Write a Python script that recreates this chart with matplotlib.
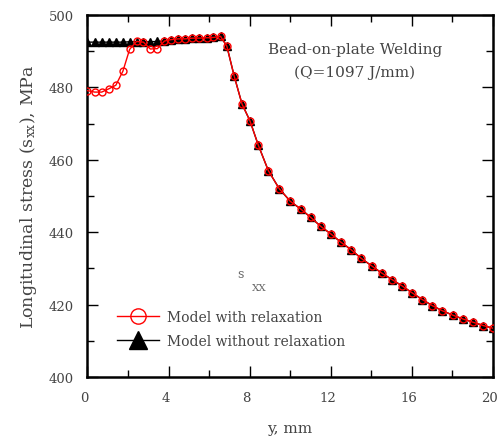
import matplotlib
matplotlib.use("Agg")
import matplotlib.pyplot as plt
import matplotlib.transforms as mtransforms
from matplotlib.ticker import MultipleLocator

plt.rcParams["font.family"] = ["DejaVu Serif"]
plt.rcParams["mathtext.fontset"] = "dejavuserif"

# Position along the plate (mm)
y_mm = [0.0, 0.35, 0.7, 1.05, 1.4, 1.75, 2.08, 2.42, 2.76, 3.1, 3.45, 3.8,
        4.13, 4.48, 4.83, 5.18, 5.53, 5.88, 6.22, 6.57, 6.88, 7.24, 7.63,
        8.02, 8.43, 8.93, 9.47, 10.02, 10.53, 11.02, 11.52, 12.02, 12.52,
        13.01, 13.51, 14.03, 14.53, 15.04, 15.55, 16.04, 16.53, 17.03,
        17.52, 18.03, 18.55, 19.05, 19.55, 20.0]

# Longitudinal stress, model with relaxation (MPa)
sxx_relax = [479.1, 478.7, 478.7, 479.6, 480.6, 484.5, 490.5, 492.7, 492.5,
             490.6, 490.7, 492.8, 493.2, 493.4, 493.4, 493.6, 493.6, 493.7,
             493.8, 494.1, 491.4, 483.2, 475.4, 470.8, 464.1, 457.0, 452.0,
             448.5, 446.4, 444.1, 441.6, 439.5, 437.2, 435.2, 432.8, 430.7,
             428.7, 426.9, 425.1, 423.2, 421.4, 419.7, 418.3, 417.1, 416.0,
             415.1, 414.2, 413.5]

# Longitudinal stress, model without relaxation (MPa)
sxx_norelax = [492.5, 492.5, 492.5, 492.5, 492.5, 492.5, 492.6, 492.6, 492.6,
               492.6, 492.7, 492.8, 493.2, 493.4, 493.4, 493.6, 493.6, 493.7,
               493.8, 494.1, 491.4, 483.2, 475.4, 470.8, 464.1, 457.0, 452.0,
               448.5, 446.4, 444.1, 441.6, 439.5, 437.2, 435.2, 432.8, 430.7,
               428.7, 426.9, 425.1, 423.2, 421.4, 419.7, 418.3, 417.1, 416.0,
               415.1, 414.2, 413.5]

x_ticks = [0, 4, 8, 12, 16, 20]
y_ticks = [400, 420, 440, 460, 480, 500]

txt_color = "#444444"

fig = plt.figure(figsize=(4.98, 4.39), dpi=100)
ax = fig.add_axes([0.1757, 0.139, 0.8133, 0.8246])

ax.plot(y_mm, sxx_norelax, color="black", lw=1.0, marker="^", ms=6.0,
        mfc="black", mec="black", label="Model without relaxation", zorder=2)
ax.plot(y_mm, sxx_relax, color="red", lw=1.0, marker="o", ms=5.0,
        mfc="none", mec="red", mew=1.0, label="Model with relaxation", zorder=3)

ax.set_xlim(0, 20)
ax.set_ylim(400, 500)
ax.set_xticks(x_ticks)
ax.set_yticks(y_ticks)
ax.xaxis.set_minor_locator(MultipleLocator(2))
ax.yaxis.set_minor_locator(MultipleLocator(10))
ax.tick_params(which="both", direction="in", top=True, right=True,
               width=1.0, colors="black", labelcolor=txt_color, labelsize=9.5)
ax.tick_params(which="major", length=8)
ax.tick_params(which="minor", length=5)
ax.tick_params(axis="x", which="major", pad=10)
ax.tick_params(axis="y", which="major", pad=10)
for sp in ax.spines.values():
    sp.set_linewidth(1.8)

# x tick labels sit a little left of their ticks
shift = mtransforms.ScaledTranslation(-3 / 100, 0, fig.dpi_scale_trans)
for lbl in ax.get_xticklabels():
    lbl.set_transform(lbl.get_transform() + shift)

ax.set_xlabel("y, mm", fontsize=11, color=txt_color, labelpad=12)
ax.set_ylabel(r"Longitudinal stress (s$_{\rm xx}$), MPa", fontsize=12.5,
              color=txt_color, labelpad=7)

ax.text(0.66, 0.906, "Bead-on-plate Welding", transform=ax.transAxes,
        ha="center", va="center", fontsize=11, color=txt_color)
ax.text(0.66, 0.843, "(Q=1097 J/mm)", transform=ax.transAxes,
        ha="center", va="center", fontsize=11, color=txt_color)

ax.text(7.57, 428.5, "s", ha="center", va="center",
        fontsize=9, color="#666666")
ax.text(8.47, 424.6, "XX", ha="center", va="center",
        fontsize=7.5, color="#666666")

handles, labels = ax.get_legend_handles_labels()
leg = ax.legend(handles[::-1], labels[::-1], loc="upper left",
                bbox_to_anchor=(0.074, 0.185), frameon=False, fontsize=10,
                markerscale=2.2, handlelength=3.0, handletextpad=0.6,
                labelspacing=0.7, borderpad=0, borderaxespad=0)
for t in leg.get_texts():
    t.set_color(txt_color)

fig.savefig("out.png", dpi=100)
